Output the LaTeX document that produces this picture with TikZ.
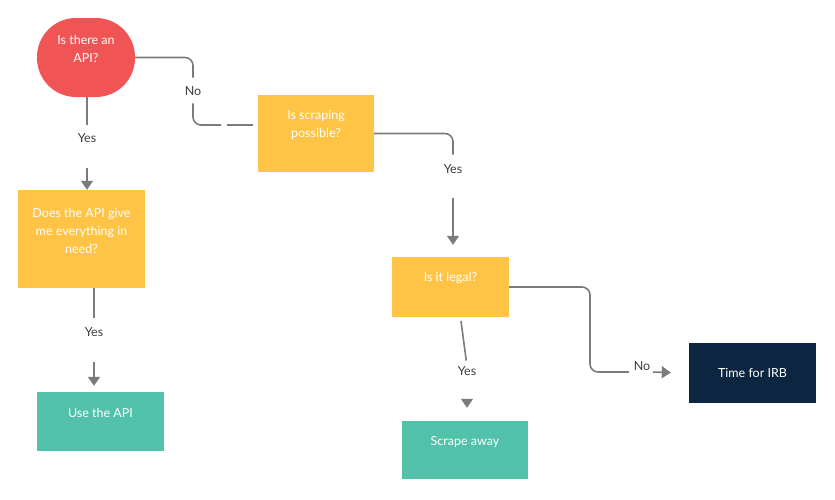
\documentclass[tikz,border=0pt]{standalone}
\usepackage{fontspec}
\setmainfont{Lato}
\usetikzlibrary{arrows.meta}
\definecolor{apired}{HTML}{F05454}
\definecolor{askyellow}{HTML}{FFC445}
\definecolor{doteal}{HTML}{52C1A9}
\definecolor{irbnavy}{HTML}{0C2540}
\definecolor{linegray}{HTML}{7B7B7B}
\definecolor{lblgray}{HTML}{3D3D3D}

\begin{document}
\begin{tikzpicture}[x=1pt, y=-1pt,
    startbox/.style={fill=apired, minimum width=98pt, minimum height=79pt, rounded corners=39pt, inner sep=0},
    qbox/.style={fill=askyellow, inner sep=0},
    abox/.style={fill=doteal, inner sep=0},
    btxt/.style={text=white, align=center, font=\fontsize{12.5}{18}\selectfont, inner sep=0},
    lbl/.style={text=lblgray, font=\fontsize{12.5}{14}\selectfont, inner sep=0},
    wire/.style={draw=linegray, line width=1.6pt, rounded corners=8pt},
    arr/.style={wire, -{Triangle[width=12pt,length=9pt]}}]
    \useasboundingbox (0,0) rectangle (835,499);

    \node[startbox] (api) at (86,57.5) {};
    \node[btxt] (apitxt) at ([yshift=8.5pt]api.center) {Is there an\\API?};
    \node[qbox, minimum width=116pt, minimum height=77pt] (scrape) at (316,133.5) {};
    \node[btxt] (scrapetxt) at ([yshift=8pt]scrape.center) {Is scraping\\possible?};
    \node[qbox, minimum width=127pt, minimum height=98pt] (does) at (81.5,239) {};
    \node[btxt] (doestxt) at ([yshift=8pt]does.center) {Does the API give\\me everything in\\need?};
    \node[qbox, minimum width=117pt, minimum height=60pt] (legal) at (450.5,287) {};
    \node[btxt] (legaltxt) at ([yshift=8.5pt]legal.center) {Is it legal?};
    \node[abox, minimum width=127pt, minimum height=59pt] (use) at (100.5,421.5) {};
    \node[btxt] (usetxt) at ([yshift=8.5pt]use.center) {Use the API};
    \node[abox, minimum width=126pt, minimum height=58pt] (away) at (465,450) {};
    \node[btxt] (awaytxt) at ([yshift=8pt]away.center) {Scrape away};
    \node[fill=irbnavy, minimum width=127pt, minimum height=60pt, btxt] (irb) at (752.5,373) {Time for IRB};

    \node[lbl] (noapi) at (193,91) {No};
    \node[lbl] (yesapi) at (87,138) {Yes};
    \node[lbl] (yesscrape) at (453,169) {Yes};
    \node[lbl] (yesdoes) at (94,332) {Yes};
    \node[lbl] (yeslegal) at (467,371) {Yes};
    \node[lbl] (nolegal) at (642,366) {No};
    \coordinate (gapa) at (221,125);
    \coordinate (gapb) at (227,125);
    \coordinate (legalfoot) at (461,321);
    \coordinate (bend) at (590,372);

    \draw[wire, shorten >=8.7pt] (api.east) -| (noapi.north);
    \draw[wire, shorten <=7.7pt] (noapi.south) |- (gapa);
    \draw[wire, shorten >=5pt] (gapb) -- (gapb -| scrape.west);
    \draw[wire, shorten >=8.7pt] (api.south -| yesapi) -- (yesapi.north);
    \draw[arr, shorten <=25.7pt] (yesapi.south) -- (yesapi.south |- does.north);
    \draw[wire, shorten >=9.7pt] (scrape.east) -| (yesscrape.north);
    \draw[arr, shorten <=24.7pt, shorten >=12pt] (yesscrape.south) -- (yesscrape.south |- legal.north);
    \draw[wire, shorten >=9.7pt] (does.south -| yesdoes) -- (yesdoes.north);
    \draw[arr, shorten <=25.7pt, shorten >=6pt] (yesdoes.south) -- (yesdoes.south |- use.north);
    \draw[wire, shorten >=5.7pt] (legalfoot) -- (yeslegal.north);
    \draw[arr, shorten <=23pt, shorten >=13pt] (yeslegal.south) -- (yeslegal.south |- away.north);
    \draw[wire, shorten >=4.5pt] (legal.east) -| (bend) -- (nolegal.west |- bend);
    \draw[arr, shorten <=2.5pt, shorten >=18pt] (nolegal.east |- bend) -- (irb.west);
\end{tikzpicture}
\end{document}
